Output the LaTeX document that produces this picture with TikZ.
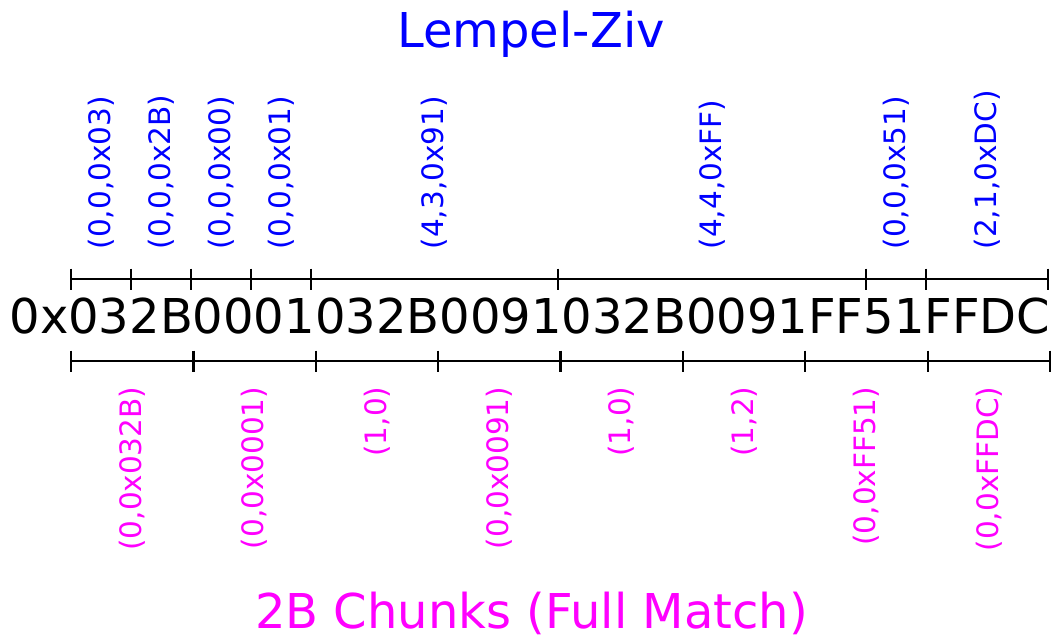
\documentclass[tikz,border=0pt]{standalone}
\usepackage{fontspec}
\setmainfont{DejaVu Sans}
\definecolor{lzblue}{RGB}{0,0,255}
\definecolor{chmag}{RGB}{255,0,255}
\begin{document}
\begin{tikzpicture}[x=1pt,y=-1pt,
  bar/.style={line width=2pt,black},
  tick/.style={line width=2.2pt,black},
  bigtext/.style={font=\fontsize{48}{58}\selectfont,inner sep=0pt,anchor=base},
  toplabel/.style={font=\fontsize{29.5}{36}\selectfont,text=lzblue,rotate=90,anchor=west,inner sep=0pt},
  botlabel/.style={font=\fontsize{29.5}{36}\selectfont,text=chmag,rotate=90,anchor=east,inner sep=0pt}]
\useasboundingbox (0,0) rectangle (1055,635);
% titles
\node[bigtext,text=lzblue] (title) at (531,47) {Lempel-Ziv};
\node[bigtext,text=chmag] (subtitle) at (531.5,628) {2B Chunks (Full Match)};
% data string
\node[bigtext,text=black] (data) at (530,333) {0x032B0001032B0091032B0091FF51FFDC};
% top (Lempel-Ziv) segmentation
\draw[bar] (71,278.5) -- (1048,278.5);
\foreach \x in {71,131,191,251,311,558,866,926,1048}
  \draw[tick] (\x,268.5) -- (\x,289.5);
\node[toplabel] (t1) at (101,249.5) {(0,0,0x03)};
\node[toplabel] (t2) at (161,249.5) {(0,0,0x2B)};
\node[toplabel] (t3) at (221,249.5) {(0,0,0x00)};
\node[toplabel] (t4) at (281,249.5) {(0,0,0x01)};
\node[toplabel] (t5) at (434.5,249.5) {(4,3,0x91)};
\node[toplabel] (t6) at (712,249.5) {(4,4,0xFF)};
\node[toplabel] (t7) at (896,249.5) {(0,0,0x51)};
\node[toplabel] (t8) at (987,249.5) {(2,1,0xDC)};
% bottom (2B chunks) segmentation
\draw[bar] (71,360.5) -- (1050,360.5);
\foreach \x in {71,193.4,315.8,438.1,560.5,682.9,805.3,927.6,1050}
  \draw[tick] (\x,350.5) -- (\x,371.5);
\node[botlabel] (b1) at (132.2,386.5) {(0,0x032B)};
\node[botlabel] (b2) at (254.6,386.5) {(0,0x0001)};
\node[botlabel] (b3) at (377,386.5) {(1,0)};
\node[botlabel] (b4) at (499.3,386.5) {(0,0x0091)};
\node[botlabel] (b5) at (621.7,386.5) {(1,0)};
\node[botlabel] (b6) at (744.1,386.5) {(1,2)};
\node[botlabel] (b7) at (866.5,386.5) {(0,0xFF51)};
\node[botlabel] (b8) at (988.8,386.5) {(0,0xFFDC)};
\end{tikzpicture}
\end{document}
